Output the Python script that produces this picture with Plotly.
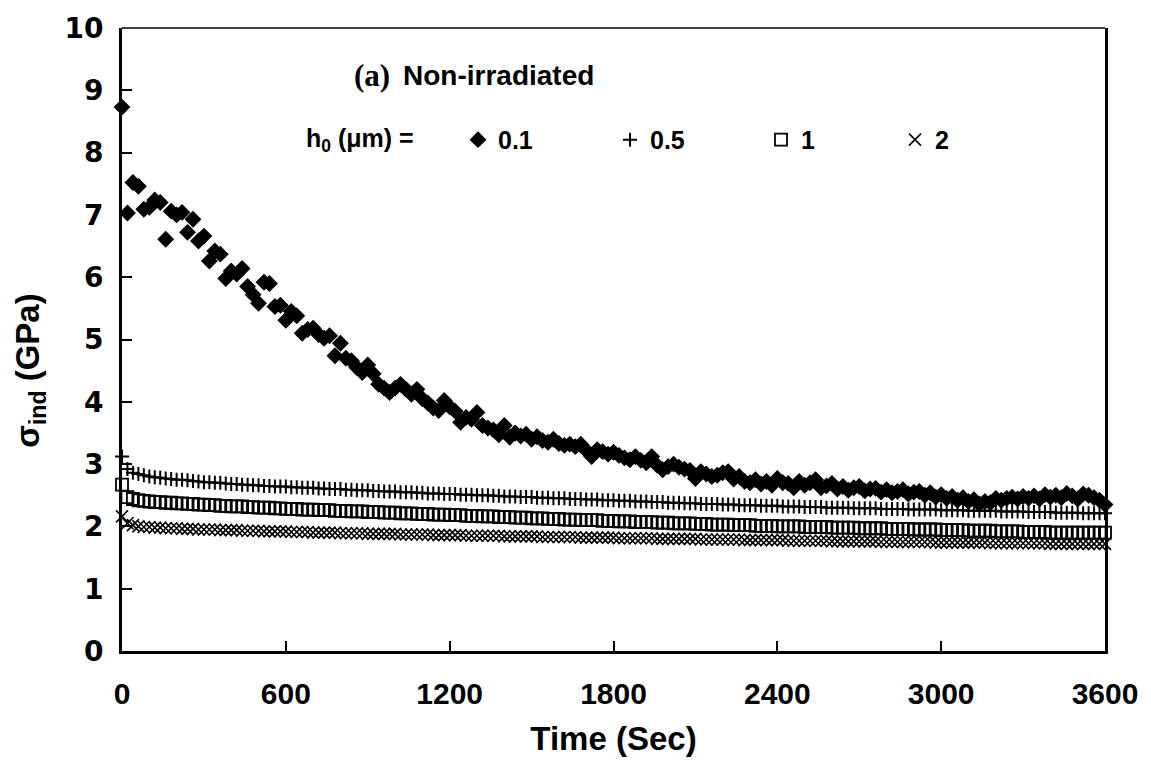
import plotly.graph_objects as go

# Time grid (s)
time_s = list(range(0, 3601, 20))

# h0 = 0.1 um
sig_01 = [8.73, 7.03, 7.52, 7.46, 7.09, 7.12, 7.24, 7.20, 6.61, 7.06,
          7.00, 7.04, 6.72, 6.93, 6.58, 6.66, 6.26, 6.42, 6.37, 5.98,
          6.10, 6.05, 6.14, 5.85, 5.72, 5.58, 5.92, 5.90, 5.53, 5.55,
          5.31, 5.45, 5.38, 5.10, 5.16, 5.18, 5.08, 5.02, 5.06, 4.74,
          4.94, 4.70, 4.66, 4.55, 4.47, 4.59, 4.45, 4.28, 4.22, 4.15,
          4.22, 4.28, 4.20, 4.12, 4.20, 4.05, 3.98, 3.90, 3.86, 4.02,
          3.92, 3.85, 3.67, 3.75, 3.72, 3.83, 3.62, 3.58, 3.55, 3.47,
          3.62, 3.43, 3.50, 3.45, 3.48, 3.40, 3.44, 3.38, 3.35, 3.40,
          3.33, 3.30, 3.32, 3.28, 3.32, 3.22, 3.12, 3.23, 3.20, 3.16,
          3.19, 3.14, 3.10, 3.07, 3.12, 3.06, 3.02, 3.12, 2.98, 2.91,
          2.96, 3.00, 2.95, 2.92, 2.90, 2.77, 2.88, 2.84, 2.80, 2.82,
          2.86, 2.88, 2.76, 2.80, 2.72, 2.70, 2.75, 2.68, 2.72, 2.66,
          2.77, 2.70, 2.69, 2.62, 2.72, 2.66, 2.70, 2.75, 2.62, 2.65,
          2.69, 2.60, 2.64, 2.58, 2.62, 2.64, 2.57, 2.60, 2.61, 2.55,
          2.59, 2.54, 2.56, 2.59, 2.52, 2.55, 2.56, 2.50, 2.54, 2.47,
          2.51, 2.45, 2.48, 2.42, 2.46, 2.40, 2.43, 2.36, 2.40, 2.38,
          2.45, 2.42, 2.45, 2.47, 2.44, 2.48, 2.45, 2.49, 2.44, 2.51,
          2.47, 2.50, 2.46, 2.53, 2.49, 2.44, 2.52, 2.50, 2.46, 2.42,
          2.35]

# h0 = 0.5 um
sig_05 = [3.12, 2.92, 2.86, 2.84, 2.82, 2.80, 2.79, 2.78, 2.77, 2.76, 2.75,
          2.75, 2.74, 2.73, 2.72, 2.71, 2.71, 2.70, 2.70, 2.69, 2.68,
          2.68, 2.67, 2.67, 2.66, 2.66, 2.65, 2.65, 2.64, 2.64, 2.64,
          2.63, 2.63, 2.62, 2.62, 2.62, 2.61, 2.61, 2.60, 2.60, 2.60,
          2.59, 2.59, 2.58, 2.58, 2.58, 2.57, 2.57, 2.56, 2.56, 2.56,
          2.55, 2.55, 2.55, 2.54, 2.54, 2.53, 2.53, 2.53, 2.52, 2.52,
          2.52, 2.51, 2.51, 2.51, 2.50, 2.50, 2.50, 2.49, 2.49, 2.48,
          2.48, 2.48, 2.47, 2.47, 2.47, 2.46, 2.46, 2.46, 2.45, 2.45,
          2.45, 2.44, 2.44, 2.44, 2.43, 2.43, 2.43, 2.42, 2.42, 2.42,
          2.41, 2.41, 2.41, 2.40, 2.40, 2.40, 2.39, 2.39, 2.39, 2.38,
          2.38, 2.38, 2.37, 2.37, 2.37, 2.36, 2.36, 2.36, 2.36, 2.35,
          2.35, 2.35, 2.34, 2.34, 2.34, 2.34, 2.33, 2.33, 2.33, 2.33,
          2.32, 2.32, 2.32, 2.32, 2.31, 2.31, 2.31, 2.31, 2.30, 2.30,
          2.30, 2.30, 2.30, 2.29, 2.29, 2.29, 2.29, 2.29, 2.28, 2.28,
          2.28, 2.28, 2.28, 2.27, 2.27, 2.27, 2.27, 2.27, 2.27, 2.26,
          2.26, 2.26, 2.26, 2.26, 2.25, 2.25, 2.25, 2.25, 2.25, 2.25,
          2.24, 2.24, 2.24, 2.24, 2.24, 2.23, 2.23, 2.23, 2.23, 2.23,
          2.22, 2.22, 2.22, 2.22, 2.22, 2.21, 2.21, 2.21, 2.21, 2.21]

# h0 = 1 um
sig_1 = [2.67, 2.47, 2.44, 2.42, 2.41, 2.40, 2.39, 2.39, 2.38, 2.38,
         2.37, 2.37, 2.36, 2.36, 2.35, 2.35, 2.34, 2.34, 2.33, 2.33,
         2.32, 2.32, 2.32, 2.31, 2.31, 2.30, 2.30, 2.30, 2.29, 2.29,
         2.28, 2.28, 2.28, 2.27, 2.27, 2.27, 2.26, 2.26, 2.26, 2.25,
         2.25, 2.25, 2.24, 2.24, 2.24, 2.23, 2.23, 2.23, 2.22, 2.22,
         2.22, 2.21, 2.21, 2.21, 2.20, 2.20, 2.20, 2.19, 2.19, 2.19,
         2.18, 2.18, 2.18, 2.17, 2.17, 2.17, 2.16, 2.16, 2.16, 2.15,
         2.15, 2.15, 2.14, 2.14, 2.14, 2.13, 2.13, 2.13, 2.12, 2.12,
         2.12, 2.11, 2.11, 2.11, 2.10, 2.10, 2.10, 2.10, 2.09, 2.09,
         2.09, 2.08, 2.08, 2.08, 2.07, 2.07, 2.07, 2.07, 2.06, 2.06,
         2.06, 2.05, 2.05, 2.05, 2.05, 2.04, 2.04, 2.04, 2.03, 2.03,
         2.03, 2.03, 2.02, 2.02, 2.02, 2.02, 2.01, 2.01, 2.01, 2.01,
         2.00, 2.00, 2.00, 2.00, 2.00, 1.99, 1.99, 1.99, 1.99, 1.99,
         1.98, 1.98, 1.98, 1.98, 1.98, 1.97, 1.97, 1.97, 1.97, 1.97,
         1.96, 1.96, 1.96, 1.96, 1.96, 1.95, 1.95, 1.95, 1.95, 1.95,
         1.94, 1.94, 1.94, 1.94, 1.94, 1.93, 1.93, 1.93, 1.93, 1.93,
         1.92, 1.92, 1.92, 1.92, 1.92, 1.91, 1.91, 1.91, 1.91, 1.91,
         1.90, 1.90, 1.90, 1.90, 1.90, 1.90, 1.90, 1.90, 1.90, 1.90,
         1.90]

# h0 = 2 um
sig_2 = [2.16, 2.05, 2.02, 2.00, 1.99, 1.99, 1.98, 1.98, 1.97, 1.97,
         1.97, 1.96, 1.96, 1.96, 1.95, 1.95, 1.95, 1.95, 1.94, 1.94,
         1.94, 1.94, 1.93, 1.93, 1.93, 1.93, 1.92, 1.92, 1.92, 1.92,
         1.92, 1.91, 1.91, 1.91, 1.91, 1.90, 1.90, 1.90, 1.90, 1.90,
         1.89, 1.89, 1.89, 1.89, 1.89, 1.88, 1.88, 1.88, 1.88, 1.88,
         1.88, 1.87, 1.87, 1.87, 1.87, 1.87, 1.87, 1.86, 1.86, 1.86,
         1.86, 1.86, 1.86, 1.85, 1.85, 1.85, 1.85, 1.85, 1.85, 1.85,
         1.84, 1.84, 1.84, 1.84, 1.84, 1.84, 1.84, 1.83, 1.83, 1.83,
         1.83, 1.83, 1.83, 1.83, 1.82, 1.82, 1.82, 1.82, 1.82, 1.82,
         1.82, 1.81, 1.81, 1.81, 1.81, 1.81, 1.81, 1.81, 1.80, 1.80,
         1.80, 1.80, 1.80, 1.80, 1.80, 1.80, 1.79, 1.79, 1.79, 1.79,
         1.79, 1.79, 1.79, 1.79, 1.78, 1.78, 1.78, 1.78, 1.78, 1.78,
         1.78, 1.78, 1.77, 1.77, 1.77, 1.77, 1.77, 1.77, 1.77, 1.77,
         1.76, 1.76, 1.76, 1.76, 1.76, 1.76, 1.76, 1.76, 1.76, 1.75,
         1.75, 1.75, 1.75, 1.75, 1.75, 1.75, 1.75, 1.75, 1.75, 1.74,
         1.74, 1.74, 1.74, 1.74, 1.74, 1.74, 1.74, 1.74, 1.74, 1.73,
         1.73, 1.73, 1.73, 1.73, 1.73, 1.73, 1.73, 1.73, 1.73, 1.73,
         1.72, 1.72, 1.72, 1.72, 1.72, 1.72, 1.72, 1.72, 1.72, 1.72,
         1.72]

series_names = ["0.1", "0.5", "1", "2"]
x_ticks = [0, 600, 1200, 1800, 2400, 3000, 3600]
y_ticks = list(range(0, 11))

SANS = "Liberation Sans"
SERIF = "Liberation Serif"
HEAVY = "DejaVu Sans"

L, R, T, B = 122, 46, 22, 115
PW = 1151 - L - R
PH = 766 - T - B


def px_x(px):
    return (px - L) / PW


def px_y(py):
    return (766 - B - py) / PH


markers = [
    dict(symbol="diamond", size=13, color="black", line=dict(width=0)),
    dict(symbol="cross-thin", size=10, color="black", line=dict(width=2, color="black")),
    dict(symbol="square-open", size=12, color="black", line=dict(width=1.8, color="black")),
    dict(symbol="x-thin", size=12, color="black", line=dict(width=1.6, color="black")),
]
series = [sig_01, sig_05, sig_1, sig_2]
legend_ids = ["legend", "legend2", "legend3", "legend4"]
legend_px = [458, 610, 761, 895]

fig = go.Figure()
for name, ys, mk, lid in zip(series_names, series, markers, legend_ids):
    fig.add_trace(go.Scatter(x=time_s, y=ys, mode="markers", name=name,
                             cliponaxis=False, marker=mk, legend=lid))

legend_font = dict(family=SANS, size=25, color="black", weight="bold")
legend_layout = {}
for lid, lx in zip(legend_ids, legend_px):
    legend_layout[lid] = dict(orientation="h", x=px_x(lx), xanchor="left",
                              y=px_y(135), yanchor="middle",
                              bgcolor="rgba(0,0,0,0)", font=legend_font,
                              itemsizing="trace")

fig.update_layout(
    width=1151, height=766,
    margin=dict(l=L, r=R, t=T, b=B),
    paper_bgcolor="white", plot_bgcolor="white",
    showlegend=True,
    xaxis=dict(range=[0, 3600], tickvals=x_ticks, ticks="inside", ticklen=10,
               tickwidth=2, tickcolor="black", showline=True, linewidth=3,
               linecolor="black", mirror=False, showgrid=False, zeroline=False,
               ticklabelstandoff=14,
               tickfont=dict(family=SANS, size=30, color="black", weight="bold"),
               title=dict(text="Time (Sec)", standoff=18,
                          font=dict(family=SANS, size=33, color="black", weight="bold"))),
    yaxis=dict(range=[0, 10], tickvals=y_ticks, ticks="inside", ticklen=10,
               tickwidth=2, tickcolor="black", showline=True, linewidth=3,
               linecolor="black", mirror=True, showgrid=False, zeroline=False,
               ticklabelstandoff=10,
               tickfont=dict(family=HEAVY, size=28, color="black", weight="bold")),
    shapes=[dict(type="line", xref="paper", yref="paper", x0=0, x1=1, y0=1, y1=1,
                 line=dict(color="black", width=1.5))],
    annotations=[
        dict(text="(a)", xref="paper", yref="paper", x=px_x(352), y=px_y(70),
             xanchor="left", yanchor="middle", showarrow=False,
             font=dict(family=SERIF, size=31, color="black", weight="bold")),
        dict(text="Non-irradiated", xref="paper", yref="paper", x=px_x(401), y=px_y(70),
             xanchor="left", yanchor="middle", showarrow=False,
             font=dict(family=SANS, size=28, color="black", weight="bold")),
        dict(text="h<sub>0</sub> (μm) =", xref="paper", yref="paper",
             x=px_x(304), y=px_y(135), xanchor="left", yanchor="middle",
             showarrow=False,
             font=dict(family=SANS, size=25, color="black", weight="bold")),
        dict(text="σ<sub>ind</sub> (GPa)", xref="paper", yref="paper",
             x=px_x(30), y=px_y(368), xanchor="center", yanchor="middle",
             textangle=-90, showarrow=False,
             font=dict(family=SANS, size=33, color="black", weight="bold")),
    ],
    **legend_layout,
)

fig.write_html("out.html")
